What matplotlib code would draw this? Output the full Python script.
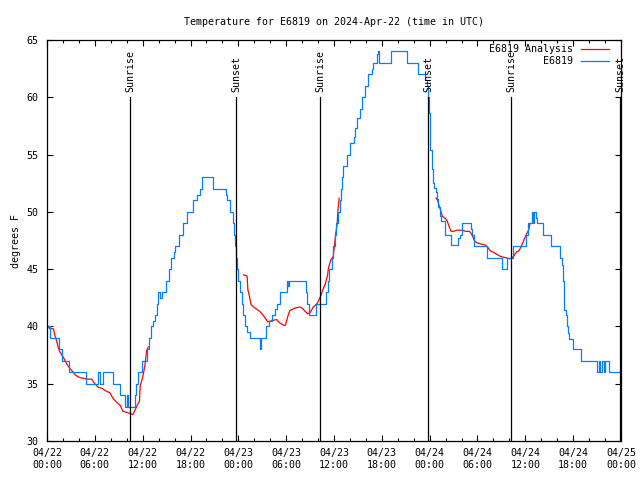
import matplotlib
matplotlib.use('Agg')
import matplotlib.pyplot as plt
import numpy as np

# hours since 04/22 00:00 UTC
obs_hours = [0.0, 0.4, 1.45, 1.9, 2.7, 4.85, 6.45, 6.6, 7.05, 8.3, 9.2, 9.8, 10.0, 10.1,
             11.0, 11.2, 11.4, 11.9, 12.5, 12.8, 13.1, 13.3, 13.6, 13.8, 13.95, 14.2, 14.4,
             14.9, 15.3, 15.6, 15.9, 16.1, 16.5, 17.1, 17.5, 18.3, 18.8, 19.2, 19.4, 20.8,
             22.4, 22.6, 23.0, 23.3, 23.4, 23.55, 23.7, 23.8, 24.0, 24.2, 24.4, 24.55, 24.8,
             25.1, 25.5, 26.7, 26.85, 27.5, 27.8, 28.2, 28.6, 28.9, 29.2, 30.1, 30.2, 30.4,
             32.5, 32.65, 32.9, 33.7, 35.0, 35.2, 35.4, 35.7, 35.9, 36.1, 36.3, 36.5, 36.7,
             36.9, 37.0, 37.1, 37.6, 37.95, 38.45, 38.66, 38.9, 39.2, 39.5, 39.9, 40.3, 40.75,
             40.95, 41.4, 41.5, 41.6, 43.2, 45.2, 46.5, 47.45, 47.65, 47.8, 47.9, 48.0, 48.1,
             48.3, 48.4, 48.55, 48.8, 48.9, 49.1, 49.3, 49.45, 49.9, 50.7, 51.6, 51.8, 52.0,
             53.15, 53.3, 53.6, 55.2, 57.1, 57.7, 58.5, 60.1, 60.3, 60.8, 60.9, 61.1, 61.3,
             61.5, 62.2, 63.2, 64.3, 64.6, 64.7, 64.8, 64.9, 65.1, 65.2, 65.4, 65.5, 66.0,
             67.0, 69.0, 69.2, 69.4, 69.6, 69.85, 70.0, 70.5, 71.9]
obs_temps = [40, 39, 38, 37, 36, 35, 36, 35, 36, 35, 34, 33, 34, 33,
             34, 35, 36, 37, 38, 39, 40, 40.5, 41, 42, 43, 42.5, 43,
             44, 45, 46, 46.5, 47, 48, 49, 50, 51, 51.5, 52, 53, 52,
             51.5, 51, 50, 49, 48, 47, 46, 45, 44, 43, 42, 41, 40,
             39.5, 39, 38, 39, 40, 40.5, 41, 41.5, 42, 43, 44, 43.5, 44,
             43, 42, 41, 42, 43, 44, 45, 46, 47, 48, 49, 50, 51,
             52, 53, 54, 55, 56, 56.5, 57.3, 58.2, 59, 60, 61, 62, 62.5,
             63, 63.8, 64, 63, 64, 63, 62, 61.5, 61, 60, 58.6, 57, 55.4,
             53.7, 52.5, 52.1, 51.7, 51.1, 50.4, 49.6, 49.2, 48, 47.1, 47.7, 48, 49,
             48.5, 48, 47, 46, 45, 46, 47, 48, 49, 50, 49, 50, 49.5,
             49, 48, 47, 46, 45.4, 44, 43, 41.4, 41, 40, 39.4, 38.9, 38,
             37, 36, 37, 36, 37, 36, 37, 36, 36]

ana_hours = [0.2, 0.4, 0.8, 1.0, 1.2, 1.4, 1.6, 2.05, 2.5, 2.9, 3.3, 3.5, 3.9, 4.35, 5.0,
             5.6, 6.0, 6.4, 6.9, 7.3, 7.9, 8.3, 8.7, 9.2, 9.5, 10.0, 10.4, 10.75, 11.05,
             11.3, 11.6, 11.7, 11.9, 12.1, 12.3, 12.5, 12.7,
             np.nan,
             24.65, 25.1, 25.2, 25.4, 25.6, 25.9, 26.3, 26.7, 27.2, 27.5, 27.7, 28.2, 28.8,
             29.2, 29.7, 29.9, 30.1, 30.3, 30.5, 31.1, 31.7, 32.0, 32.4, 32.7, 33.0, 33.4,
             33.9, 34.3, 34.6, 34.9, 35.2, 35.3, 35.6, 35.9, 36.1, 36.2, 36.4, 36.5, 36.65,
             np.nan,
             48.8, 49.0, 49.2, 49.4, 49.6, 50.0, 50.2, 50.5, 50.7, 51.0, 51.4, 52.1, 52.5,
             53.0, 53.3, 53.6, 53.9, 54.4, 55.0, 55.3, 55.6, 55.9, 56.4, 56.9, 57.5, 58.1,
             58.5, 58.9, 59.2, 59.5, 59.8, 60.1, 60.4, 60.6]
ana_temps = [39.9, 39.8, 39.8, 39.2, 38.75, 38.2, 37.8, 37.3, 36.7, 36.3, 36.0, 35.8, 35.6, 35.5, 35.4,
             35.4, 35.0, 34.7, 34.6, 34.4, 34.2, 33.7, 33.4, 33.1, 32.6, 32.5, 32.4, 32.3, 32.7,
             33.1, 33.5, 34.85, 35.3, 35.9, 36.7, 37.9, 38.2,
             np.nan,
             44.5, 44.4, 43.2, 42.6, 41.9, 41.7, 41.5, 41.3, 40.9, 40.6, 40.4, 40.5, 40.6,
             40.3, 40.1, 40.1, 40.6, 41.1, 41.4, 41.6, 41.7, 41.6, 41.3, 41.1, 41.2, 41.7,
             42.0, 42.6, 43.2, 43.7, 44.5, 45.1, 45.8, 46.1, 47.3, 48.0, 49.0, 50.2, 51.2,
             np.nan,
             51.2, 51.0, 50.5, 50.1, 49.6, 49.4, 49.2, 48.6, 48.3, 48.3, 48.4, 48.4, 48.3,
             48.3, 48.0, 47.5, 47.3, 47.2, 47.1, 46.9, 46.6, 46.5, 46.3, 46.1, 46.0, 45.9,
             46.1, 46.5, 46.6, 47.0, 47.5, 48.0, 48.4, 49.0]

sun_hours = [10.4, 23.75, 34.3, 47.85, 58.2, 71.9]
sun_labels = ['Sunrise', 'Sunset', 'Sunrise', 'Sunset', 'Sunrise', 'Sunset']

tick_hours = [0, 6, 12, 18, 24, 30, 36, 42, 48, 54, 60, 66, 72]
tick_labels = ['04/22\n00:00', '04/22\n06:00', '04/22\n12:00', '04/22\n18:00',
               '04/23\n00:00', '04/23\n06:00', '04/23\n12:00', '04/23\n18:00',
               '04/24\n00:00', '04/24\n06:00', '04/24\n12:00', '04/24\n18:00',
               '04/25\n00:00']

plt.rcParams['font.family'] = ['DejaVu Sans Mono']
plt.rcParams['font.size'] = 7.2

fig = plt.figure(figsize=(6.4, 4.8), dpi=100)
ax = fig.add_axes([47 / 640, 39 / 480, 574 / 640, 401 / 480])

ax.plot(ana_hours, ana_temps, color='#ff0000', lw=0.9, label='E6819 Analysis')
ax.plot(obs_hours, obs_temps, color='#0080ff', lw=0.9, drawstyle='steps-post', label='E6819')

for h, lab in zip(sun_hours, sun_labels):
    ax.plot([h, h], [30, 60.0], color='black', lw=0.9, zorder=3)
    ax.text(h, 60.5, lab, rotation=90, ha='center', va='bottom', clip_on=False, zorder=4)

ax.set_xlim(0, 72)
ax.set_ylim(30, 65)
ax.set_xticks(tick_hours)
ax.set_xticklabels(tick_labels)
ax.set_xticks(np.arange(0, 73, 2), minor=True)
ax.set_yticks(np.arange(30, 66, 5))
ax.tick_params(which='both', direction='in', top=True, right=True, width=0.8)
ax.tick_params(which='major', length=4.5)
ax.tick_params(which='minor', length=2.5)
ax.tick_params(axis='x', pad=5)
ax.tick_params(axis='y', pad=6)
for s in ax.spines.values():
    s.set_linewidth(0.9)

ax.set_ylabel('degrees F', labelpad=4)
ax.set_title('Temperature for E6819 on 2024-Apr-22 (time in UTC)', fontsize=7.2, pad=11)

ax.legend(loc='upper right', bbox_to_anchor=(0.979, 0.99), frameon=False, markerfirst=False,
          handlelength=2.8, handletextpad=0.8, labelspacing=0.2, borderpad=0, borderaxespad=0)

fig.savefig('out.png', dpi=100)
